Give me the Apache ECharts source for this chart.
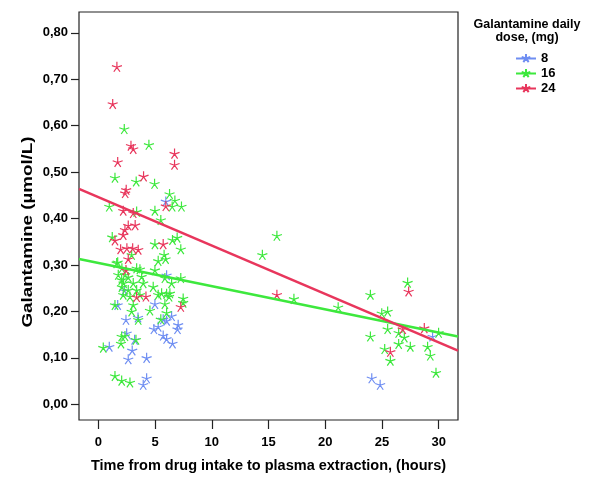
<!DOCTYPE html>
<html>
<head>
<meta charset="utf-8">
<script src="https://cdn.jsdelivr.net/npm/echarts@6/dist/echarts.min.js"></script>
<style>html,body{margin:0;padding:0;background:#fff}#c{width:600px;height:485px}</style>
</head>
<body>
<div id="c"></div>
<script>
// ---- data ----
var seriesNames = ['8', '16', '24'];
var dose8 = [[0.97,0.124],[1.71,0.214],[2.30,0.245],[2.44,0.182],[3.50,0.187],[2.50,0.153],[3.20,0.139],[2.99,0.116],[2.64,0.097],[4.26,0.100],[4.26,0.056],[3.96,0.042],[4.99,0.216],[6.46,0.190],[6.02,0.180],[7.04,0.171],[6.98,0.162],[5.28,0.167],[4.90,0.162],[5.72,0.148],[6.02,0.141],[6.54,0.131],[5.95,0.437],[6.02,0.278],[5.72,0.183],[29.46,0.146],[24.10,0.056],[24.84,0.042]];
var dose16 = [[2.29,0.593],[4.46,0.559],[1.47,0.488],[3.34,0.480],[4.96,0.475],[6.28,0.453],[6.75,0.439],[7.33,0.426],[6.51,0.426],[0.97,0.426],[3.38,0.415],[4.99,0.417],[5.51,0.397],[1.23,0.360],[4.99,0.345],[6.54,0.354],[6.95,0.359],[7.27,0.334],[2.94,0.322],[5.80,0.322],[5.93,0.313],[5.28,0.309],[1.71,0.306],[3.38,0.293],[3.67,0.291],[4.99,0.289],[5.87,0.272],[6.46,0.261],[7.27,0.272],
  [1.47,0.214],[2.20,0.236],[2.79,0.232],[3.67,0.236],[3.08,0.214],[5.28,0.236],[6.02,0.238],[6.24,0.232],[5.87,0.216],[7.48,0.219],[2.94,0.200],[4.55,0.202],[6.02,0.197],[3.52,0.182],[5.51,0.183],[2.06,0.146],[3.32,0.139],[2.35,0.147],[2.00,0.131],[0.44,0.122],[1.47,0.061],[2.06,0.051],[2.79,0.047],
  [1.76,0.279],[2.06,0.268],[2.64,0.274],[3.08,0.261],[3.82,0.275],[3.96,0.261],[3.38,0.246],[2.64,0.246],[4.84,0.253],[5.58,0.239],[6.31,0.239],[7.48,0.228],[1.62,0.304],[2.08,0.293],[2.37,0.279],[2.23,0.261],[2.08,0.253],
  [15.74,0.363],[14.46,0.322],[17.24,0.227],[21.14,0.209],[23.98,0.236],[23.98,0.146],[24.98,0.196],[25.50,0.200],[25.50,0.162],[25.24,0.119],[25.74,0.094],[26.47,0.130],[26.47,0.154],[26.97,0.144],[27.26,0.262],[27.50,0.124],[29.02,0.124],[29.26,0.105],[29.99,0.154],[29.76,0.068]];
var dose24 = [[1.64,0.727],[1.27,0.647],[2.88,0.557],[3.08,0.550],[1.71,0.522],[3.99,0.491],[6.72,0.540],[6.72,0.516],[2.46,0.462],[2.37,0.455],[5.95,0.427],[2.20,0.417],[3.08,0.412],[2.64,0.385],[3.25,0.386],[2.35,0.376],[2.20,0.365],[1.47,0.353],[5.72,0.345],[1.97,0.334],[2.52,0.336],[3.03,0.336],[3.52,0.333],[2.64,0.313],[2.44,0.289],[3.38,0.231],[4.20,0.232],[7.27,0.210],[15.74,0.236],[27.35,0.243],[26.83,0.162],[28.73,0.164],[25.74,0.113]];
var fit16 = [[-1.7,0.313],[31.7,0.146]];
var fit24 = [[-1.7,0.464],[31.7,0.1155]];
var xTicks = [0,5,10,15,20,25,30];
var yTicks = [0,0.1,0.2,0.3,0.4,0.5,0.6,0.7,0.8];

var colors = {'8':'#6f8ef2','16':'#3de83d','24':'#e8365c'};
var star = 'path://M0,0L0,-5M0,0L4.76,-1.55M0,0L2.94,4.05M0,0L-2.94,4.05M0,0L-4.76,-1.55';
var legendStar = 'path://M-11,0L11,0M0,0L0,-5M0,0L4.76,-1.55M0,0L2.94,4.05M0,0L-2.94,4.05M0,0L-4.76,-1.55';
var FONT = '"Liberation Sans", Arial, Helvetica, sans-serif';

function scatter(name, data) {
  return {
    type: 'scatter', name: name, data: data,
    symbol: star, symbolSize: [10, 10],
    itemStyle: {color: colors[name], borderColor: colors[name], borderWidth: 1.2, opacity: 1},
    emphasis: {disabled: true}, z: 3
  };
}
function fitLine(name, data) {
  return {
    type: 'line', data: data, showSymbol: false, silent: true,
    lineStyle: {color: colors[name], width: 2.6}, z: 4
  };
}

var chart = echarts.init(document.getElementById('c'), null, {renderer: 'canvas'});
chart.setOption({
  animation: false,
  backgroundColor: '#fff',
  grid: {left: 79, right: 142, top: 12, bottom: 65, show: true, borderColor: '#222', borderWidth: 1.2, containLabel: false},
  xAxis: {
    type: 'value', min: -1.7, max: 31.7,
    splitLine: {show: false},
    axisLine: {show: false, onZero: false},
    axisTick: {show: true, length: 9, inside: false, customValues: xTicks, lineStyle: {color: '#222', width: 1.2}},
    axisLabel: {customValues: xTicks, margin: 16, color: '#000', fontWeight: 'bold', fontSize: 13, fontFamily: FONT},
    name: 'Time from drug intake to plasma extraction, (hours)',
    nameLocation: 'middle', nameGap: 38,
    nameTextStyle: {color: '#000', fontWeight: 'bold', fontSize: 14.5, fontFamily: FONT}
  },
  yAxis: {
    type: 'value', min: -0.034, max: 0.845,
    splitLine: {show: false},
    axisLine: {show: false, onZero: false},
    axisTick: {show: true, length: 8, inside: false, customValues: yTicks, lineStyle: {color: '#222', width: 1.2}},
    axisLabel: {customValues: yTicks, margin: 11, color: '#000', fontWeight: 'bold', fontSize: 13, fontFamily: FONT,
      formatter: function (v) { return v.toFixed(2).replace('.', ','); }}
  },
  legend: {
    orient: 'vertical', left: 510, top: 46, itemWidth: 20, itemHeight: 10, itemGap: 1,
    data: seriesNames.map(function (n) { return {name: n, icon: legendStar}; }),
    textStyle: {color: '#000', fontWeight: 'bold', fontSize: 13, lineHeight: 14, fontFamily: FONT},
    selectedMode: false
  },
  graphic: [{
    type: 'text', x: 527, y: 18, silent: true,
    style: {text: 'Galantamine daily\ndose, (mg)', textAlign: 'center', fill: '#000',
      font: 'bold 12.5px ' + FONT, lineHeight: 13}
  }, {
    type: 'text', x: 28, y: 232, rotation: Math.PI / 2, scaleX: 1.25, silent: true,
    style: {text: 'Galantamine (µmol/L)', textAlign: 'center', textVerticalAlign: 'middle', fill: '#000',
      font: 'bold 15px ' + FONT}
  }],
  series: [
    scatter('8', dose8),
    scatter('16', dose16),
    scatter('24', dose24),
    fitLine('16', fit16),
    fitLine('24', fit24)
  ]
});
</script>
</body>
</html>
